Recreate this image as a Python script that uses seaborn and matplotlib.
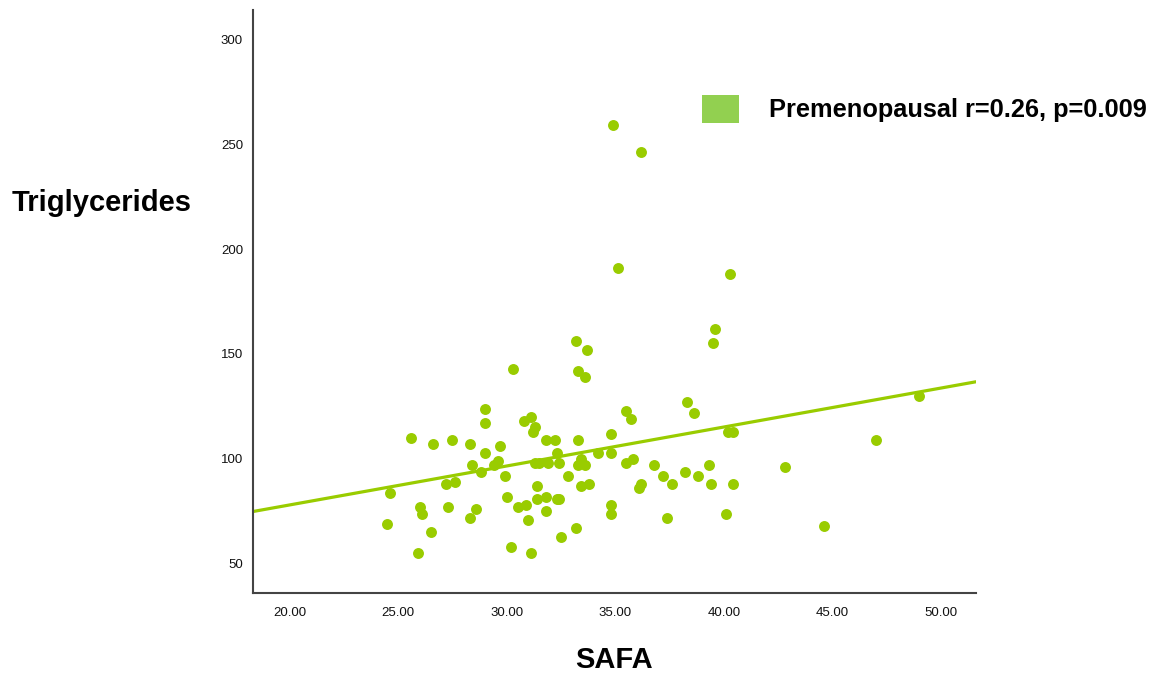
import numpy as np
import pandas as pd
import matplotlib
matplotlib.use("Agg")
import matplotlib.pyplot as plt
import seaborn as sns
from matplotlib.patches import Patch

# values
safa = [
    34.9, 36.2, 35.1, 40.3, 39.6, 39.5, 33.2, 33.7, 30.3, 33.3,
    33.6, 38.3, 38.6, 35.5, 35.7, 49.0, 29.0, 29.0, 30.8, 31.1,
    31.2, 31.3, 34.8, 40.2, 40.4, 47.0, 25.6, 26.6, 27.5, 28.3,
    29.7, 31.8, 32.2, 33.3, 29.0, 32.3, 34.2, 34.8, 28.4, 28.8,
    29.4, 29.6, 29.9, 31.3, 31.5, 31.9, 32.4, 33.4, 33.3, 33.6,
    32.8, 35.5, 35.8, 36.8, 37.2, 38.2, 38.8, 39.3, 42.8, 27.2,
    27.6, 31.4, 33.4, 33.8, 36.2, 36.1, 37.6, 39.4, 40.4, 24.6,
    30.0, 31.4, 31.8, 32.3, 32.4, 26.0, 26.1, 27.3, 28.6, 30.5,
    30.9, 31.8, 34.8, 34.8, 24.5, 28.3, 31.0, 37.4, 40.1, 44.6,
    26.5, 32.5, 33.2, 25.9, 30.2, 31.1,
]
triglycerides = [
    259, 246, 191, 188, 162, 155, 156, 152, 143, 142,
    139, 127, 122, 123, 119, 130, 124, 117, 118, 120,
    113, 115, 112, 113, 113, 109, 110, 107, 109, 107,
    106, 109, 109, 109, 103, 103, 103, 103, 97, 94,
    97, 99, 92, 98, 98, 98, 98, 100, 97, 97,
    92, 98, 100, 97, 92, 94, 92, 97, 96, 88,
    89, 87, 87, 88, 88, 86, 88, 88, 88, 84,
    82, 81, 82, 81, 81, 77, 74, 77, 76, 77,
    78, 75, 78, 74, 69, 72, 71, 72, 74, 68,
    65, 63, 67, 55, 58, 55,
]
x_ticks = [20, 25, 30, 35, 40, 45, 50]
y_ticks = [50, 100, 150, 200, 250, 300]
legend_label = "Premenopausal r=0.26, p=0.009"

df = pd.DataFrame({"SAFA": safa, "Triglycerides": triglycerides})

sns.set_style("white")
plt.rcParams["font.family"] = ["Liberation Sans", "DejaVu Sans"]
plt.rcParams["text.color"] = "black"

point_color = "#99cc00"
fig = plt.figure(figsize=(11.7, 6.76), dpi=100)
ax = fig.add_axes([0.216, 0.123, 0.618, 0.862])
ax.set_xlim(18.3, 51.6)
ax.set_ylim(36.2, 313.8)

sns.regplot(data=df, x="SAFA", y="Triglycerides", ax=ax, ci=None, truncate=False,
            color=point_color,
            scatter_kws={"s": 62, "alpha": 1, "linewidths": 0},
            line_kws={"linewidth": 2.3})

ax.set_xticks(x_ticks)
ax.set_xticklabels([f"{t:.2f}" for t in x_ticks])
ax.set_yticks(y_ticks)
ax.tick_params(axis="both", direction="out", length=5, width=1, color="#333333",
               labelsize=9.5, labelcolor="#111111", pad=2)
ax.tick_params(axis="x", pad=5)

sns.despine(ax=ax)
for side in ["left", "bottom"]:
    ax.spines[side].set_color("#444444")
    ax.spines[side].set_linewidth(1.5)

ax.set_xlabel("")
ax.set_ylabel("")
fig.text(0.525, 0.024, "SAFA", ha="center", va="center", fontsize=21, fontweight="bold")
fig.text(0.087, 0.700, "Triglycerides", ha="center", va="center", fontsize=21, fontweight="bold")

handle = Patch(facecolor="#92d050", edgecolor="none", label=legend_label)
fig.legend(handles=[handle], loc="center left", bbox_to_anchor=(0.5805, 0.839),
           frameon=False, handlelength=1.45, handleheight=1.3, handletextpad=1.2,
           prop={"size": 18.3, "weight": "bold"})

fig.savefig("out.png", dpi=100)
